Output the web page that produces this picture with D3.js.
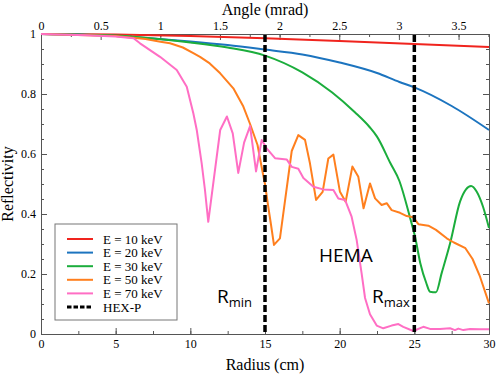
<!DOCTYPE html>
<html lang="en">
<head>
  <meta charset="UTF-8">
  <script src="https://cdn.jsdelivr.net/npm/d3@7"></script>
  <title>Reflectivity</title>
  <style>
    body { margin: 0; background: #fff; }
    .axis text { font-family: "Liberation Serif", serif; font-size: 12px; fill: #000; }
    .axis path, .axis line { stroke: #555; }
  </style>
</head>
<body>
  <svg width="498" height="375"></svg>
<script>
  // data
  const redR = [0, 5, 10, 15, 20, 25, 30];
  const redV = [1, 0.998, 0.993, 0.986, 0.977, 0.967, 0.957];

  const blueR = [0, 2.5, 5, 7.5, 10, 12.5, 15, 17.5, 20, 22.5, 24, 25, 27.5, 30];
  const blueV = [1, 0.998, 0.993, 0.985, 0.975, 0.963, 0.948, 0.932, 0.905, 0.87, 0.84, 0.822, 0.76, 0.68];

  const greenR = [0, 5, 7.5, 10, 12.5, 15, 17.5, 19.5, 21, 22, 22.5, 23.4, 24, 24.7, 25.05, 25.4, 25.8, 26.05, 26.45, 26.83, 27.4, 28.06, 28.46, 28.8, 29.18, 29.6, 30];
  const greenV = [1, 0.995, 0.985, 0.972, 0.955, 0.928, 0.872, 0.805, 0.74, 0.69, 0.658, 0.569, 0.51, 0.39, 0.324, 0.236, 0.17, 0.141, 0.139, 0.203, 0.303, 0.441, 0.482, 0.493, 0.474, 0.424, 0.353];

  const orangeR = [0, 5, 7, 8, 8.64, 9.5, 10.2, 10.65, 11.3, 12, 12.88, 13.55, 14, 14.5, 14.8, 15, 15.2, 15.4, 15.6, 16, 16.79, 17.23, 17.68, 18.01, 18.42, 18.86, 19.24, 19.58, 20.02, 20.4, 20.85, 21.25, 21.6, 22.03, 22.37, 22.81, 23.15, 23.48, 24.04, 24.49, 24.93, 25.27, 25.94, 26.45, 27.17, 27.65, 28.42, 28.9, 29.4, 30];
  const orangeV = [1, 0.993, 0.983, 0.974, 0.969, 0.955, 0.936, 0.924, 0.902, 0.869, 0.819, 0.758, 0.7, 0.63, 0.55, 0.5, 0.43, 0.365, 0.297, 0.319, 0.61, 0.663, 0.647, 0.569, 0.447, 0.474, 0.585, 0.598, 0.474, 0.441, 0.558, 0.524, 0.419, 0.502, 0.452, 0.43, 0.436, 0.413, 0.404, 0.393, 0.389, 0.366, 0.361, 0.347, 0.319, 0.305, 0.286, 0.25, 0.191, 0.102];

  const pinkR = [0, 3, 5, 6.2, 6.63, 7.97, 9.09, 9.76, 10.2, 10.43, 10.76, 10.98, 11.2, 12, 12.45, 12.84, 13.21, 13.6, 14, 14.4, 14.78, 15.11, 15.67, 16.45, 16.79, 17.23, 17.57, 18.24, 18.9, 19.58, 19.91, 20.36, 20.8, 21.14, 21.47, 21.7, 22.03, 22.48, 22.92, 23.48, 23.93, 24.26, 24.93, 25.6, 26.05, 26.72, 27.39, 27.72, 27.95, 28.28, 28.73, 29.4, 30];
  const pinkV = [1, 0.996, 0.992, 0.986, 0.969, 0.924, 0.88, 0.824, 0.736, 0.68, 0.569, 0.48, 0.374, 0.68, 0.725, 0.669, 0.537, 0.638, 0.693, 0.542, 0.647, 0.619, 0.586, 0.582, 0.557, 0.551, 0.52, 0.491, 0.482, 0.48, 0.452, 0.447, 0.391, 0.313, 0.202, 0.12, 0.066, 0.028, 0.019, 0.028, 0.033, 0.024, 0.01, 0.024, 0.017, 0.017, 0.019, 0.013, 0.018, 0.013, 0.017, 0.016, 0.016];

  const hexpR = [15, 25];

  const seriesNames = ["E = 10 keV", "E = 20 keV", "E = 30 keV", "E = 50 keV", "E = 70 keV"];
  const seriesColors = ["#f0241e", "#1c74bf", "#1bad3c", "#ff7f1e", "#ff6ec4"];

  const radiusTicks = [0, 5, 10, 15, 20, 25, 30];
  const angleTicks = [0, 0.5, 1, 1.5, 2, 2.5, 3, 3.5];
  const reflTicks = [0, 0.2, 0.4, 0.6, 0.8, 1];

  const svg = d3.select("svg");
  const margin = { left: 41, top: 34, right: 9, bottom: 41 };
  const width = 498, height = 375;
  const x0 = margin.left, x1 = width - margin.right;
  const y0 = height - margin.bottom, y1 = margin.top;

  const xScale = d3.scaleLinear().domain([0, 30]).range([x0, x1]);
  // top axis: 119.3 px per mrad
  const angleMax = (x1 - x0) / 119.3;
  const xTop = d3.scaleLinear().domain([0, angleMax]).range([x0, x1]);
  const yScale = d3.scaleLinear().domain([0, 1]).range([y0, y1]);

  const fmt = d => String(d);

  // minor ticks
  const minorX = d3.range(0, 30.01, 2.5);
  const minorTop = d3.range(0, angleMax, 0.25);
  const minorY = d3.range(0, 1.001, 0.05);

  svg.append("g").attr("class", "axis")
    .attr("transform", "translate(0," + y0 + ")")
    .call(d3.axisBottom(xScale).tickValues(minorX).tickSize(-3).tickFormat("").tickSizeOuter(0));
  svg.append("g").attr("class", "axis")
    .attr("transform", "translate(0," + y1 + ")")
    .call(d3.axisTop(xTop).tickValues(minorTop).tickSize(-3).tickFormat("").tickSizeOuter(0));
  svg.append("g").attr("class", "axis")
    .attr("transform", "translate(" + x0 + ",0)")
    .call(d3.axisLeft(yScale).tickValues(minorY).tickSize(-3).tickFormat("").tickSizeOuter(0));
  svg.append("g").attr("class", "axis")
    .attr("transform", "translate(" + x1 + ",0)")
    .call(d3.axisRight(yScale).tickValues(minorY).tickSize(-3).tickFormat("").tickSizeOuter(0));

  // major ticks
  svg.append("g").attr("class", "axis")
    .attr("transform", "translate(0," + y0 + ")")
    .call(d3.axisBottom(xScale).tickValues(radiusTicks).tickFormat(fmt).tickSize(-6).tickPadding(5).tickSizeOuter(0));
  svg.append("g").attr("class", "axis")
    .attr("transform", "translate(0," + y1 + ")")
    .call(d3.axisTop(xTop).tickValues(angleTicks).tickFormat(fmt).tickSize(-6).tickPadding(4).tickSizeOuter(0));
  svg.append("g").attr("class", "axis")
    .attr("transform", "translate(" + x0 + ",0)")
    .call(d3.axisLeft(yScale).tickValues(reflTicks).tickFormat(fmt).tickSize(-6).tickPadding(5).tickSizeOuter(0));
  svg.append("g").attr("class", "axis")
    .attr("transform", "translate(" + x1 + ",0)")
    .call(d3.axisRight(yScale).tickValues(reflTicks).tickFormat("").tickSize(-6).tickSizeOuter(0));

  // axis titles
  const serif = "'Liberation Serif', serif";
  svg.append("text").attr("x", (x0 + x1) / 2).attr("y", 15).attr("text-anchor", "middle")
    .style("font-family", serif).style("font-size", "16px").text("Angle (mrad)");
  svg.append("text").attr("x", (x0 + x1) / 2).attr("y", 370).attr("text-anchor", "middle")
    .style("font-family", serif).style("font-size", "16px").text("Radius (cm)");
  svg.append("text").attr("transform", "translate(13," + ((y0 + y1) / 2) + ") rotate(-90)")
    .attr("text-anchor", "middle")
    .style("font-family", serif).style("font-size", "16px").text("Reflectivity");

  // curves
  const series = [
    [redR, redV], [blueR, blueV], [greenR, greenV], [orangeR, orangeV], [pinkR, pinkV]
  ].map((s, i) => ({ name: seriesNames[i], color: seriesColors[i], pts: s[0].map((r, j) => [r, s[1][j]]) }));

  const line = d3.line()
    .x(d => xScale(d[0]))
    .y(d => yScale(d[1]));

  svg.append("g")
    .selectAll("path")
    .data(series)
    .join("path")
    .attr("d", (d, i) => line.curve(i < 3 ? d3.curveMonotoneX : d3.curveLinear)(d.pts))
    .attr("fill", "none")
    .attr("stroke", d => d.color)
    .attr("stroke-width", 2)
    .attr("stroke-linejoin", "round");

  // HEX-P dashed lines
  svg.append("g")
    .selectAll("line")
    .data(hexpR)
    .join("line")
    .attr("x1", d => xScale(d)).attr("x2", d => xScale(d))
    .attr("y1", y1 + 1).attr("y2", y0)
    .attr("stroke", "#000")
    .attr("stroke-width", 3.5)
    .attr("stroke-dasharray", "7,3");

  // annotations
  const sans = "'Open Sans', sans-serif";
  svg.append("text").attr("x", 319).attr("y", 262)
    .style("font-family", sans).style("font-size", "19px").text("HEMA");
  const rmin = svg.append("text").attr("x", 217).attr("y", 303)
    .style("font-family", sans).style("font-size", "19px");
  rmin.append("tspan").text("R");
  rmin.append("tspan").attr("dy", 4).style("font-size", "13px").text("min");
  const rmax = svg.append("text").attr("x", 372).attr("y", 303)
    .style("font-family", sans).style("font-size", "19px");
  rmax.append("tspan").text("R");
  rmax.append("tspan").attr("dy", 4).style("font-size", "13px").text("max");

  // legend
  const legendItems = seriesNames.map((n, i) => ({ name: n, color: seriesColors[i], dash: null }))
    .concat([{ name: "HEX-P", color: "#000", dash: "4.5,2" }]);

  const legend = svg.append("g").attr("class", "legend");
  legend.append("rect")
    .attr("x", 55).attr("y", 224).attr("width", 122).attr("height", 96)
    .attr("fill", "#fff").attr("stroke", "#777").attr("stroke-width", 1);

  const item = legend.selectAll(".legend-item")
    .data(legendItems)
    .join("g")
    .attr("class", "legend-item")
    .attr("transform", (d, i) => "translate(0," + (239 + i * 13.6) + ")");

  item.append("line")
    .attr("x1", 67).attr("x2", 93)
    .attr("stroke", d => d.color)
    .attr("stroke-width", d => d.dash ? 3 : 2)
    .attr("stroke-dasharray", d => d.dash);

  item.append("text")
    .attr("x", 103).attr("y", 4.5)
    .style("font-family", serif).style("font-size", "13px")
    .text(d => d.name);
</script>
</body>
</html>
